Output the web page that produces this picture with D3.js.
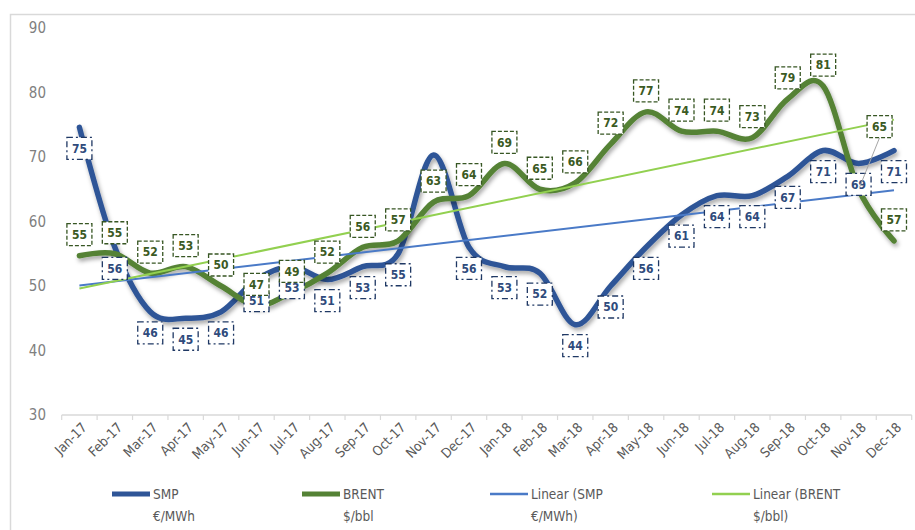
<!DOCTYPE html>
<html>
<head>
<meta charset="utf-8">
<script src="https://cdn.jsdelivr.net/npm/d3@7"></script>
<style>
  body { margin: 0; background: #fff; }
  svg { font-family: "Liberation Sans Narrow", "Arial Narrow", "DejaVu Sans Condensed", sans-serif; }
</style>
</head>
<body>
<div id="chart"></div>
<script>
const months = ['Jan-17','Feb-17','Mar-17','Apr-17','May-17','Jun-17','Jul-17','Aug-17','Sep-17','Oct-17','Nov-17','Dec-17',
                'Jan-18','Feb-18','Mar-18','Apr-18','May-18','Jun-18','Jul-18','Aug-18','Sep-18','Oct-18','Nov-18','Dec-18'];
const smp   = [74.6, 56, 46, 45, 46, 51, 53, 51, 53, 55, 70.3, 56, 53, 52, 44, 50, 56, 61, 64, 64, 67, 71, 69, 71];
const brent = [54.7, 55, 52, 53, 50, 47, 49, 52, 56, 57, 63, 64, 69, 65, 66, 72, 77, 74, 74, 73, 79, 81, 65, 57];
const yTicks = [30, 40, 50, 60, 70, 80, 90];
// labels Excel hides / moves
const smpHidden = ['Nov-17'];
const brentMoved = 'Nov-18';

const width = 915, height = 530;
const svg = d3.select('#chart').append('svg').attr('width', width).attr('height', height);

const defs = svg.append('defs');
const f = defs.append('filter').attr('id', 'shadow').attr('x', '-10%').attr('y', '-10%').attr('width', '120%').attr('height', '130%');
f.append('feDropShadow').attr('dx', 1.5).attr('dy', 3).attr('stdDeviation', 2)
  .attr('flood-color', '#000').attr('flood-opacity', 0.35);

// chart frame
svg.append('rect').attr('x', 10.5).attr('y', 14.5).attr('width', 930).attr('height', 540)
  .attr('fill', 'none').attr('stroke', '#d9d9d9').attr('stroke-width', 1.5);

const x = d3.scaleBand().domain(months).range([61.7, 911.7]);
const y = d3.scaleLinear().domain([30, 90]).range([415, 28]);
const cx = d => x(d) + x.bandwidth() / 2;

// y axis labels
svg.append('g').selectAll('text').data(yTicks).join('text')
  .attr('x', 46).attr('y', d => y(d)).attr('dy', '0.35em')
  .attr('text-anchor', 'end').attr('font-size', 15).attr('fill', '#7f7f7f')
  .text(d => d);

// x axis
const xAxis = svg.append('g').attr('transform', 'translate(0,415)');
xAxis.append('line').attr('x1', 61.7).attr('x2', 911.7).attr('stroke', '#d9d9d9').attr('stroke-width', 1.5);
xAxis.selectAll('line.tick').data(d3.range(months.length + 1)).join('line').attr('class', 'tick')
  .attr('x1', i => 61.7 + i * x.step()).attr('x2', i => 61.7 + i * x.step())
  .attr('y1', 0).attr('y2', 5).attr('stroke', '#d9d9d9').attr('stroke-width', 1.2);
xAxis.selectAll('text').data(months).join('text')
  .attr('transform', d => `translate(${cx(d) + 5},10) rotate(-45)`)
  .attr('text-anchor', 'end').attr('dy', '0.35em')
  .attr('font-size', 13.5).attr('fill', '#595959')
  .text(d => d);

const line = d3.line().x((d, i) => cx(months[i])).y(d => y(d)).curve(d3.curveCardinal.tension(0));

svg.append('path').datum(smp).attr('d', line).attr('fill', 'none')
  .attr('stroke', '#2f5597').attr('stroke-width', 5.5).attr('stroke-linejoin', 'round').attr('stroke-linecap', 'round')
  .attr('filter', 'url(#shadow)');
svg.append('path').datum(brent).attr('d', line).attr('fill', 'none')
  .attr('stroke', '#548235').attr('stroke-width', 5.5).attr('stroke-linejoin', 'round').attr('stroke-linecap', 'round')
  .attr('filter', 'url(#shadow)');

// linear trendlines (least squares on month index)
function trend(vals) {
  const xs = vals.map((v, i) => i + 1);
  const mx = d3.mean(xs), my = d3.mean(vals);
  const b = d3.sum(xs, (xi, i) => (xi - mx) * (vals[i] - my)) / d3.sum(xs, xi => (xi - mx) ** 2);
  const a = my - b * mx;
  return [a + b * 1, a + b * vals.length];
}
const tSmp = trend(smp), tBrent = trend(brent);
const ends = [months[0], months[months.length - 1]];
svg.append('line').attr('x1', cx(ends[0])).attr('x2', cx(ends[1]))
  .attr('y1', y(tSmp[0])).attr('y2', y(tSmp[1])).attr('stroke', '#4a7ac7').attr('stroke-width', 2);
svg.append('line').attr('x1', cx(ends[0])).attr('x2', cx(ends[1]))
  .attr('y1', y(tBrent[0])).attr('y2', y(tBrent[1])).attr('stroke', '#92d050').attr('stroke-width', 2);

// data labels
function labels(vals, off, stroke, dash, color, hidden) {
  const g = svg.append('g');
  const items = vals.map((v, i) => ({ m: months[i], v: v })).filter(d => !hidden.includes(d.m));
  const lg = g.selectAll('g').data(items).join('g')
    .attr('transform', d => {
      if (d.m === brentMoved && off < 0) return `translate(${cx(d.m) + 21},${y(74.7)})`;
      return `translate(${cx(d.m)},${y(d.v) + off})`;
    });
  lg.append('rect').attr('x', -12.5).attr('y', -11).attr('width', 25).attr('height', 22)
    .attr('fill', '#fff').attr('stroke', stroke).attr('stroke-width', 1.3).attr('stroke-dasharray', dash);
  lg.append('text').attr('text-anchor', 'middle').attr('dy', '0.36em')
    .attr('font-size', 12).attr('font-weight', 'bold').attr('fill', color)
    .text(d => Math.round(d.v));
  return g;
}
labels(smp, 21, '#1f3864', '6,3,2,3', '#2f4b7c', smpHidden);
// leader line for moved BRENT label
const mi = months.indexOf(brentMoved);
svg.append('line').attr('x1', cx(brentMoved) + 21).attr('y1', y(74.7) + 11)
  .attr('x2', cx(brentMoved) + 1).attr('y2', y(brent[mi]) - 2)
  .attr('stroke', '#a6a6a6').attr('stroke-width', 1);
labels(brent, -21, '#375623', '4,2', '#3b5a23', []);

// legend
const legendItems = [
  { lines: ['SMP', '€/MWh'], color: '#2f5597', w: 5, x: 112 },
  { lines: ['BRENT', '$/bbl'], color: '#548235', w: 5, x: 302 },
  { lines: ['Linear (SMP', '€/MWh)'], color: '#4a7ac7', w: 2.5, x: 490 },
  { lines: ['Linear (BRENT', '$/bbl)'], color: '#92d050', w: 2.5, x: 712 }
];
const lg = svg.append('g').selectAll('g').data(legendItems).join('g')
  .attr('transform', d => `translate(${d.x},494)`);
lg.append('line').attr('x1', 0).attr('x2', 38).attr('stroke', d => d.color).attr('stroke-width', d => d.w);
lg.append('text').attr('x', 41).attr('dy', '0.35em').attr('font-size', 13.5).attr('fill', '#595959')
  .text(d => d.lines[0]);
lg.append('text').attr('x', 41).attr('y', 22).attr('dy', '0.35em').attr('font-size', 13.5).attr('fill', '#595959')
  .text(d => d.lines[1]);
</script>
</body>
</html>
